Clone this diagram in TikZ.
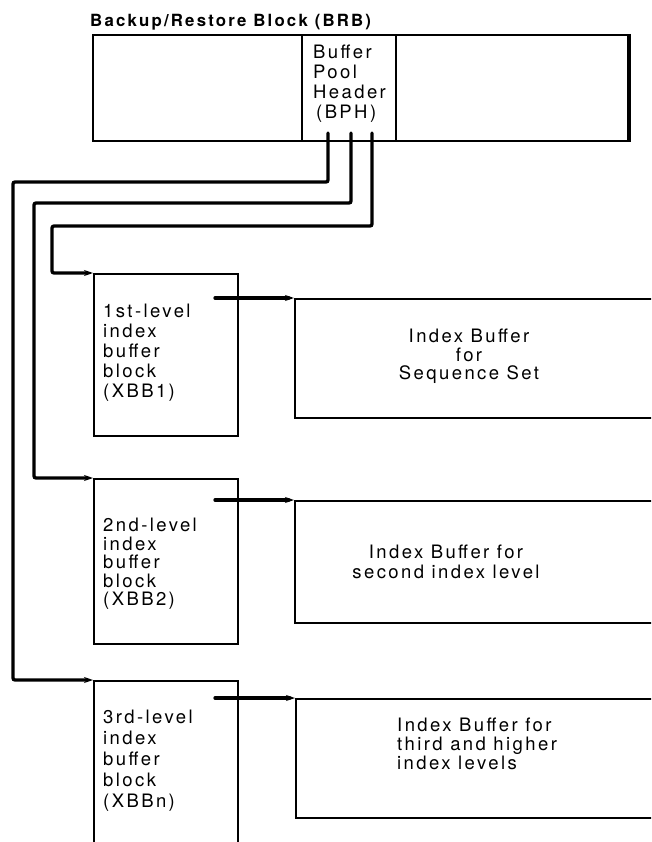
\documentclass[tikz,border=0pt]{standalone}
\usepackage{fontspec}
\setmainfont{TeX Gyre Heros}[LetterSpace=13]
\usetikzlibrary{arrows.meta}
\begin{document}
\begin{tikzpicture}[x=1pt,y=-1pt,
  box/.style={draw=black, line width=1.9pt, anchor=north west, inner sep=0pt},
  conn/.style={line width=3.3pt, line cap=round, rounded corners=2pt, -{Stealth[length=9pt,width=6pt]}},
  txt/.style={anchor=north west, align=left, inner sep=0pt, font=\fontsize{18.5}{#1}\selectfont},
  txt/.default=19.5,
  ctxt/.style={anchor=north, align=center, inner sep=0pt, font=\fontsize{18.5}{#1}\selectfont},
  ctxt/.default=19.5
]
\useasboundingbox (0,0) rectangle (651,842);
\clip (0,0) rectangle (651,842);

% title
\node[anchor=north west, inner sep=0pt, font=\fontsize{16.8}{20}\selectfont\bfseries] (title) at (90,14) {Backup/Restore Block (BRB)};

% BRB box
\node[box, minimum width=535pt, minimum height=106pt] (brb) at (92,34) {};
\draw[line width=3.5pt] (brb.north east) -- (brb.south east);
\node[box, minimum width=94pt, minimum height=106pt] (bph) at (301,34) {};
\node[txt=20] (bphtext) at (313,45) {Buffer\\Pool\\Header\\\hspace{3pt}(BPH)};

% left index buffer blocks
\node[box, minimum width=144pt, minimum height=162pt] (xbb1) at (93,273) {};
\node[box, minimum width=144pt, minimum height=165pt] (xbb2) at (93,478) {};
\node[box, minimum width=144pt, minimum height=190pt] (xbb3) at (93,680) {};
\node[txt=20] (t1) at (103,304) {1st-level\\index\\buffer\\block\\(XBB1)};
\node[txt=18.5] (t2) at (103,518) {2nd-level\\index\\buffer\\block\\(XBB2)};
\node[txt=21] (t3) at (103,710) {3rd-level\\index\\buffer\\block\\(XBBn)};

% right index buffers
\node[box, minimum width=370pt, minimum height=119pt] (ib1) at (294,298) {};
\node[box, minimum width=370pt, minimum height=122pt] (ib2) at (294,500) {};
\node[box, minimum width=370pt, minimum height=119pt] (ib3) at (295,698) {};
\node[ctxt=18.5] (r1) at (469,329) {Index Buffer\\for\\Sequence Set};
\node[ctxt=20] (r2) at (446,545) {Index Buffer for\\second index level};
\node[txt=19] (r3) at (397,718) {Index Buffer for\\third and higher\\index levels};

% connector start points inside BPH
\coordinate (p1) at (328,133);
\coordinate (p2) at (351,133);
\coordinate (p3) at (372,133);
\coordinate (c1) at (13,182);
\coordinate (c2) at (34,203);
\coordinate (c3) at (52,226);

\draw[conn] (p1) |- (c1) |- (xbb3.north west);
\draw[conn] (p2) |- (c2) |- (xbb2.north west);
\draw[conn] (p3) |- (c3) |- (xbb1.north west);

% pointers from blocks to buffers
\coordinate (a1) at (215,298);
\coordinate (a2) at (215,500);
\coordinate (a3) at (215,698);
\draw[conn] (a1) -- (ib1.north west);
\draw[conn] (a2) -- (ib2.north west);
\draw[conn] (a3) -- (ib3.north west);
\end{tikzpicture}
\end{document}
